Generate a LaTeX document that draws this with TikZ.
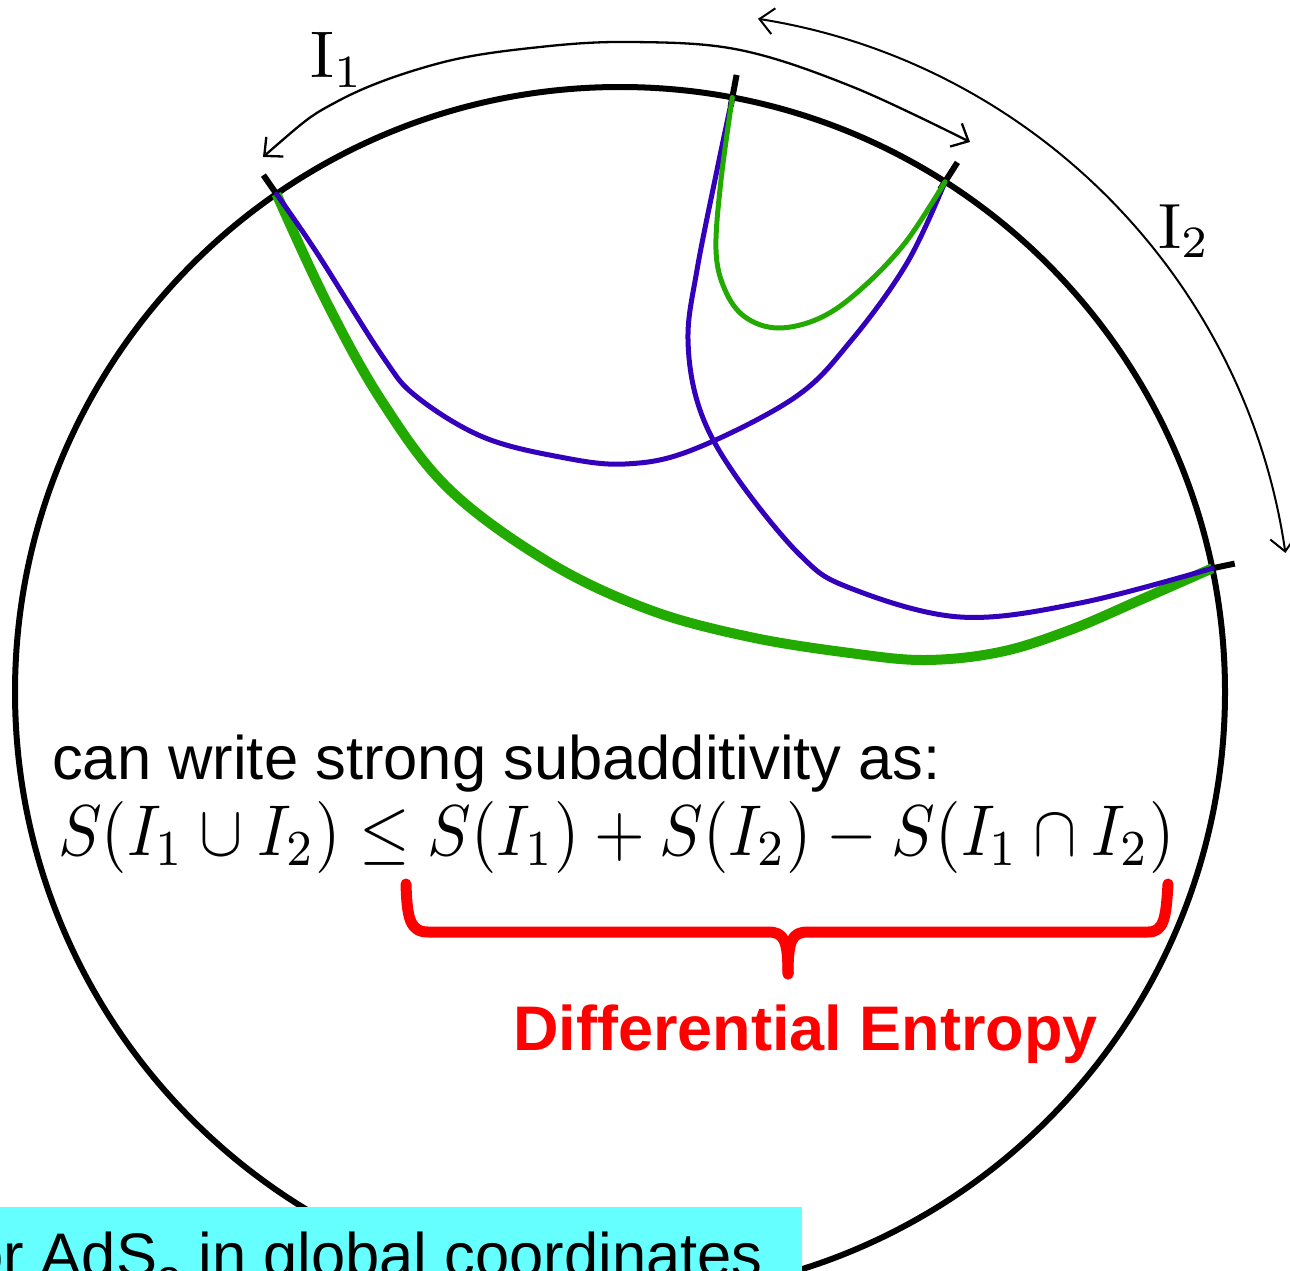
\documentclass[tikz,border=0pt]{standalone}
\usepackage{fontspec}
\newfontfamily\arial{Liberation Sans}
\usetikzlibrary{arrows.meta}
\definecolor{grn}{RGB}{34,170,0}
\definecolor{blu}{RGB}{51,0,187}
\definecolor{cyanbox}{RGB}{102,255,255}
\definecolor{brace}{RGB}{255,0,0}
\begin{document}
\begin{tikzpicture}[x=1pt,y=-1pt,
  rim/.style={line width=6pt},
  tickmark/.style={line width=6pt},
  geoblue/.style={blu, line width=5pt, line cap=round, line join=round},
  geogreen/.style={grn, line width=5pt, line cap=round, line join=round},
  geogreenthick/.style={grn, line width=10pt, line join=round},
  span/.style={line width=2.3pt, arrows={Straight Barb[length=14pt,width=26pt]-Straight Barb[length=14pt,width=26pt]}},
  sans/.style={inner sep=0pt, font=\arial\fontsize{61.5}{70}\selectfont},
  mathlbl/.style={inner sep=0pt},
  ]
\useasboundingbox (0,0) rectangle (1290,1271);
\clip (0,0) rectangle (1290,1271);
\coordinate (O) at (620,692);
\draw[rim] (O) circle[radius=605];
\foreach \n/\a in {A/124.6,B/79.3,C/57.5,D/11.8} {
  \coordinate (\n) at ([shift={(O)}]-\a:605);
  \draw[tickmark] ([shift={(O)}]-\a:596) -- ([shift={(O)}]-\a:628);
}
% geodesics
\draw[geogreenthick] plot[smooth,tension=0.6] coordinates {(A) (327,303) (383,403) (450,490) (550,563) (650,610) (750,637) (850,653) (925,660) (1000,652) (1070,630) (1140,600) (D)};
\draw[geoblue] plot[smooth,tension=0.6] coordinates {(A) (317,253) (383,357) (417,397) (483,437) (560,457) (625,464) (692,450) (794,398) (850,342) (907,263) (C)};
\draw[geoblue] plot[smooth,tension=0.6] coordinates {(B) (717,170) (697,270) (688,340) (700,410) (735,475) (800,555) (850,588) (960,617) (1080,603) (D)};
\draw[geogreen] plot[smooth,tension=0.6] coordinates {(B) (721,180) (716,250) (725,290) (745,317) (778,328) (820,318) (860,290) (905,243) (C)};
% interval arrows
\coordinate (i1a) at (263,157);
\coordinate (i1b) at (970,142);
\draw[span] plot[smooth,tension=0.6] coordinates {(i1a) (340,100) (440,63) (540,47) (633,42) (740,50) (853,87) (i1b)};
\coordinate (C2) at (659,644);
\coordinate (i2a) at ([shift={(C2)}]-81:633);
\draw[span, line width=2pt] (i2a) arc[start angle=-81, end angle=-8.27, radius=633] coordinate (i2b);
\node[mathlbl, anchor=base west] (l1) at (310,78) {\scalebox{6.6}{$\mathrm{I}_1$}};
\node[mathlbl, anchor=base west] (l2) at (1158,248) {\scalebox{6.4}{$\mathrm{I}_2$}};
% text
\node[sans, anchor=base west] (t1) at (52,779) {can write strong subadditivity as:};
\node[inner sep=0pt, anchor=base west] (eq) at (58,855)
  {\scalebox{6.52}[7.2]{$S(I_1\cup I_2)\leq S(I_1)+S(I_2)-S(I_1\cap I_2)$}};
% brace
\draw[brace, line width=11pt, line cap=round, line join=round]
  (406,884) .. controls (407,918) and (410,932) .. (428,932) -- (768,932)
  .. controls (784,932) and (788,940) .. (788,974);
\draw[brace, line width=11pt, line cap=round, line join=round]
  (788,974) .. controls (788,940) and (792,932) .. (808,932) -- (1148,932)
  .. controls (1164,932) and (1166,918) .. (1168,884);
\node[inner sep=0pt, anchor=base west, text=brace, font=\arial\bfseries\fontsize{63}{70}\selectfont] (de) at (513,1050) {Differential Entropy};
% bottom box
\fill[cyanbox] (0,1207) rectangle (802,1300);
\node[sans, anchor=base east] (t2) at (763,1276) {for AdS\textsubscript{3} in global coordinates};
\end{tikzpicture}
\end{document}
